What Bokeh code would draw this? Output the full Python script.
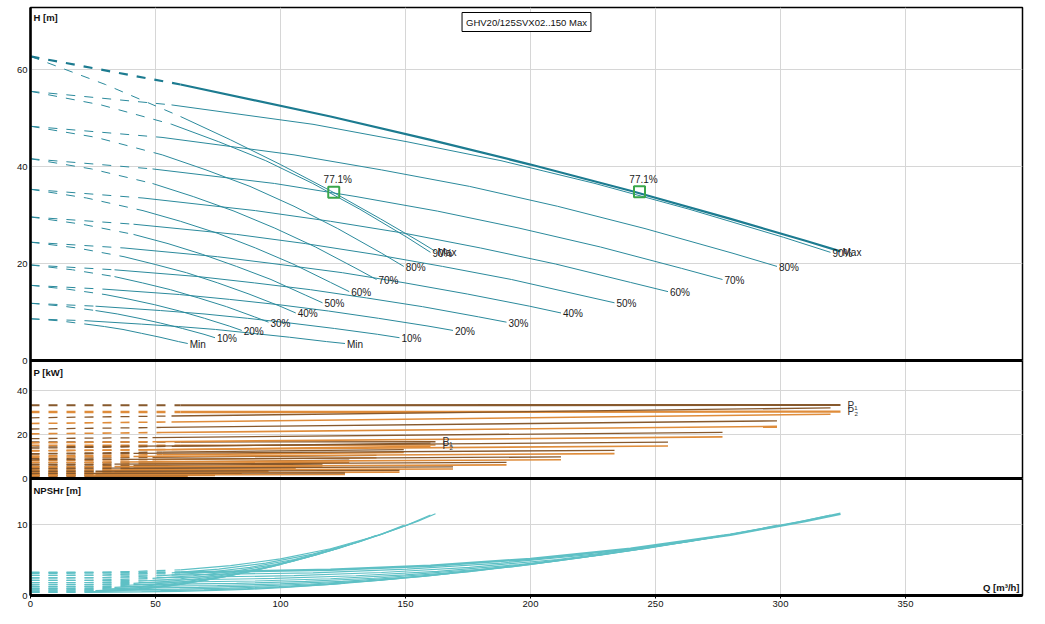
from bokeh.plotting import figure
from bokeh.models import Range1d, FixedTicker, Span, Label, ColumnDataSource
from bokeh.embed import file_html
from bokeh.resources import INLINE
from bokeh.core.properties import value

# ---------------- data ----------------
TITLE = "GHV20/125SVX02..150 Max"
SPEED_LABELS = ["Max", "90%", "80%", "70%", "60%", "50%", "40%", "30%", "20%", "10%", "Min"]

# one pump: flow points of every speed curve [m3/h]
Q_SINGLE = [
    [0, 30, 60, 80, 100, 120, 140, 155, 162],
    [0, 28.2, 56.5, 75.3, 94.1, 112.9, 131.7, 150.6, 160.0],
    [0, 26.3, 52.7, 70.2, 87.8, 105.4, 122.9, 140.5, 149.3],
    [0, 24.4, 48.8, 65.1, 81.4, 97.7, 114.0, 130.2, 138.4],
    [0, 22.5, 45.0, 60.0, 75.0, 90.0, 105.0, 120.0, 127.5],
    [0, 20.6, 41.2, 55.0, 68.7, 82.4, 96.2, 109.9, 116.8],
    [0, 18.7, 37.4, 49.9, 62.4, 74.9, 87.4, 99.8, 106.1],
    [0, 16.8, 33.6, 44.8, 56.0, 67.2, 78.4, 89.6, 95.2],
    [0, 14.9, 29.8, 39.8, 49.7, 59.6, 69.6, 79.5, 84.5],
    [0, 13.0, 26.0, 34.7, 43.4, 52.1, 60.8, 69.4, 73.8],
    [0, 11.1, 22.2, 29.6, 37.0, 44.4, 51.8, 59.2, 62.9],
]
# two pumps in parallel: flow points of every speed curve [m3/h]
Q_TWIN = [
    [0, 60, 120, 160, 200, 240, 280, 310, 324],
    [0, 56.4, 113.0, 150.6, 188.2, 225.8, 263.4, 301.2, 320.0],
    [0, 52.6, 105.4, 140.4, 175.6, 210.8, 245.8, 281.0, 298.6],
    [0, 48.8, 97.6, 130.2, 162.8, 195.4, 228.0, 260.4, 276.8],
    [0, 45.0, 90.0, 120.0, 150.0, 180.0, 210.0, 240.0, 255.0],
    [0, 41.2, 82.4, 110.0, 137.4, 164.8, 192.4, 219.8, 233.6],
    [0, 37.4, 74.8, 99.8, 124.8, 149.8, 174.8, 199.6, 212.2],
    [0, 33.6, 67.2, 89.6, 112.0, 134.4, 156.8, 179.2, 190.4],
    [0, 29.8, 59.6, 79.6, 99.4, 119.2, 139.2, 159.0, 169.0],
    [0, 26.0, 52.0, 69.4, 86.8, 104.2, 121.6, 138.8, 147.6],
    [0, 22.2, 44.4, 59.2, 74.0, 88.8, 103.6, 118.4, 125.8],
]
# head at those points [m]
H_CURVE = [
    [62.7, 56.9, 50.3, 45.5, 40.4, 35.0, 29.2, 24.7, 22.5],
    [55.5, 52.7, 48.7, 45.1, 41.2, 36.5, 31.2, 25.4, 22.3],
    [48.3, 46.0, 42.4, 39.3, 35.9, 31.8, 27.2, 22.1, 19.4],
    [41.6, 39.5, 36.5, 33.8, 30.8, 27.3, 23.4, 19.0, 16.7],
    [35.3, 33.5, 30.9, 28.7, 26.2, 23.2, 19.9, 16.1, 14.2],
    [29.6, 28.1, 26.0, 24.1, 21.9, 19.4, 16.7, 13.5, 11.9],
    [24.4, 23.2, 21.4, 19.8, 18.1, 16.0, 13.7, 11.2, 9.8],
    [19.7, 18.7, 17.3, 16.0, 14.6, 12.9, 11.1, 9.0, 7.9],
    [15.5, 14.7, 13.6, 12.6, 11.5, 10.2, 8.7, 7.1, 6.2],
    [11.8, 11.2, 10.3, 9.6, 8.7, 7.7, 6.6, 5.4, 4.7],
    [8.6, 8.2, 7.5, 7.0, 6.4, 5.6, 4.8, 3.9, 3.5],
]
# NPSHr at those points [m]
NPSH_CURVE = [
    [3.20, 3.25, 3.62, 4.20, 5.15, 6.58, 8.56, 10.48, 11.51],
    [2.83, 2.88, 3.20, 3.72, 4.56, 5.82, 7.58, 9.91, 11.33],
    [2.47, 2.51, 2.79, 3.24, 3.97, 5.07, 6.60, 8.64, 9.87],
    [2.12, 2.15, 2.40, 2.78, 3.41, 4.36, 5.68, 7.43, 8.49],
    [1.80, 1.83, 2.04, 2.36, 2.90, 3.70, 4.82, 6.30, 7.20],
    [1.51, 1.53, 1.71, 1.98, 2.43, 3.11, 4.04, 5.29, 6.04],
    [1.24, 1.26, 1.41, 1.63, 2.00, 2.56, 3.33, 4.36, 4.98],
    [1.00, 1.02, 1.14, 1.32, 1.62, 2.07, 2.69, 3.52, 4.02],
    [0.79, 0.80, 0.89, 1.04, 1.27, 1.63, 2.11, 2.77, 3.16],
    [0.60, 0.61, 0.68, 0.79, 0.97, 1.24, 1.61, 2.11, 2.41],
    [0.44, 0.45, 0.50, 0.58, 0.71, 0.90, 1.17, 1.53, 1.75],
]
# power [kW] at shut-off, end of the dashed part and end of curve
P1_SINGLE = [
    [16.6, 16.6, 16.7], [13.8, 14.6, 16.1], [11.3, 12.0, 13.1], [9.0, 9.6, 10.5],
    [7.1, 7.5, 8.3], [5.6, 5.9, 6.5], [4.2, 4.5, 4.9], [3.1, 3.3, 3.6],
    [2.2, 2.5, 2.7], [1.6, 1.7, 1.8], [1.2, 1.2, 1.3],
]
P2_SINGLE = [
    [15.1, 15.1, 15.2], [12.5, 13.2, 14.6], [10.2, 10.8, 11.8], [8.1, 8.6, 9.4],
    [6.3, 6.7, 7.4], [4.9, 5.2, 5.7], [3.6, 3.9, 4.3], [2.6, 2.8, 3.1],
    [1.8, 2.0, 2.2], [1.2, 1.3, 1.4], [0.8, 0.8, 0.9],
]
P1_TWIN = [
    [33.3, 33.3, 33.4], [27.6, 28.4, 32.1], [22.5, 23.2, 26.2], [18.1, 18.6, 21.0],
    [14.3, 14.7, 16.5], [11.1, 11.4, 12.8], [8.5, 8.7, 9.8], [6.3, 6.5, 7.3],
    [4.6, 4.7, 5.3], [3.3, 3.3, 3.7], [2.3, 2.3, 2.5],
]
P2_TWIN = [
    [30.2, 30.2, 30.4], [25.0, 25.7, 29.2], [20.3, 20.9, 23.7], [16.2, 16.7, 18.9],
    [12.7, 13.0, 14.8], [9.7, 10.0, 11.3], [7.3, 7.5, 8.5], [5.3, 5.4, 6.2],
    [3.7, 3.8, 4.3], [2.5, 2.5, 2.9], [1.5, 1.6, 1.8],
]
BEP_Q = [121.3, 243.6]
BEP_H = [34.7, 34.8]
BEP_TEXT = ["77.1%", "77.1%"]

X_TICKS = [0, 50, 100, 150, 200, 250, 300, 350]
H_TICKS = [0, 20, 40, 60]
P_TICKS = [0, 20, 40]
NPSH_TICKS = [0, 10]

# ---------------- layout / style ----------------
X_MAX = 396.8
FRAME_W, FRAME_H = 992, 588
NPSH_PX, P_PX, H_PX = 117, 118, 353          # panel heights (bottom to top)
H_SCALE, P_SCALE, NPSH_SCALE = 4.85, 2.2, 7.1  # px per unit
FONT = "Liberation Sans"
H_COLOR, H_BOLD = "#2b8a9c", "#1c7b90"
P1_COLOR, P2_COLOR = "#87592d", "#df8c3a"
N_COLOR = "#5ec0c5"
GRID = "#d6d6d6"
DASH = "9 9"

h_start = -(NPSH_PX + P_PX) / H_SCALE
p_start = -NPSH_PX / P_SCALE

p = figure(frame_width=FRAME_W, frame_height=FRAME_H,
           x_range=Range1d(0, X_MAX), y_range=Range1d(0, FRAME_H),
           output_backend="svg", toolbar_location=None,
           min_border_left=30, min_border_right=8, min_border_top=7, min_border_bottom=0)
p.extra_y_ranges = {
    "H": Range1d(h_start, h_start + FRAME_H / H_SCALE),
    "P": Range1d(p_start, p_start + FRAME_H / P_SCALE),
    "N": Range1d(0, FRAME_H / NPSH_SCALE),
}

# composite y ticks (in panel pixel units)
tick_pos, tick_lab = [], {}
for v in NPSH_TICKS:
    k = int(round(v * NPSH_SCALE)); tick_pos.append(k); tick_lab[k] = str(v)
for v in P_TICKS:
    k = int(round(NPSH_PX + v * P_SCALE)); tick_pos.append(k); tick_lab[k] = str(v)
for v in H_TICKS:
    k = int(round(NPSH_PX + P_PX + v * H_SCALE)); tick_pos.append(k); tick_lab[k] = str(v)

p.yaxis.ticker = FixedTicker(ticks=tick_pos)
p.yaxis.major_label_overrides = tick_lab
p.xaxis.ticker = FixedTicker(ticks=X_TICKS)
for ax in (p.xaxis, p.yaxis):
    ax.major_label_text_font = FONT
    ax.major_label_text_font_size = "9.5px"
    ax.major_label_text_color = "#111111"
    ax.minor_tick_line_color = None
    ax.axis_line_color = "black"
    ax.major_tick_line_color = "black"
p.yaxis.axis_line_width = 2.5
p.yaxis.major_tick_out = 0
p.yaxis.major_tick_in = 0
p.yaxis.major_label_standoff = 3
p.xaxis.axis_line_width = 3
p.xaxis.major_tick_out = 3
p.xaxis.major_tick_in = 0
p.xaxis.major_label_standoff = 2

p.xgrid.ticker = FixedTicker(ticks=X_TICKS)
p.ygrid.ticker = FixedTicker(ticks=tick_pos)
p.xgrid.grid_line_color = GRID
p.ygrid.grid_line_color = GRID
p.outline_line_color = "black"
p.outline_line_width = 1.5
p.background_fill_color = "white"
p.border_fill_color = "white"

for rn in ("H", "P"):
    p.add_layout(Span(location=0, dimension="width", y_range_name=rn,
                      line_color="black", line_width=3))

# ---------------- curves ----------------
for i in range(len(SPEED_LABELS)):
    qs, qt = Q_SINGLE[i], Q_TWIN[i]
    h, npsh = H_CURVE[i], NPSH_CURVE[i]
    tw = 2.2 if i == 0 else 1.0
    pw = 2.4 if i == 0 else 1.6
    tc = H_BOLD if i == 0 else H_COLOR
    # NPSHr
    p.line(qs[:3], npsh[:3], y_range_name="N", line_color=N_COLOR, line_dash=DASH, line_width=1.2)
    p.line(qs[2:], npsh[2:], y_range_name="N", line_color=N_COLOR, line_width=1.2)
    p.line(qt[:2], npsh[:2], y_range_name="N", line_color=N_COLOR, line_dash=DASH, line_width=tw + 0.2)
    p.line(qt[1:], npsh[1:], y_range_name="N", line_color=N_COLOR, line_width=tw + 0.2)
    # power
    qps = [qs[0], qs[2], qs[-1]]
    qpt = [qt[0], qt[1], qt[-1]]
    for vals, qq, col, w in ((P2_SINGLE[i], qps, P2_COLOR, 1.6), (P1_SINGLE[i], qps, P1_COLOR, 1.3),
                             (P2_TWIN[i], qpt, P2_COLOR, pw), (P1_TWIN[i], qpt, P1_COLOR, pw - 0.3)):
        p.line(qq[:2], vals[:2], y_range_name="P", line_color=col, line_dash=DASH, line_width=w)
        p.line(qq[1:], vals[1:], y_range_name="P", line_color=col, line_width=w)
    # head
    p.line(qs[:3], h[:3], y_range_name="H", line_color=H_COLOR, line_dash=DASH, line_width=1)
    p.line(qs[2:], h[2:], y_range_name="H", line_color=H_COLOR, line_width=1)
    p.line(qt[:2], h[:2], y_range_name="H", line_color=tc, line_dash=DASH, line_width=tw)
    p.line(qt[1:], h[1:], y_range_name="H", line_color=tc, line_width=tw)

# curve end labels
lab_src = ColumnDataSource(dict(
    x=[q[-1] for q in Q_SINGLE] + [q[-1] for q in Q_TWIN],
    y=[hh[-1] for hh in H_CURVE] * 2,
    t=SPEED_LABELS * 2,
))
p.text(x="x", y="y", text="t", source=lab_src, y_range_name="H",
       text_font=value(FONT), text_font_size="10px", text_color="#1a1a1a",
       text_align="left", text_baseline="middle", x_offset=2, y_offset=1)

# power labels
pl_src = ColumnDataSource(dict(
    x=[Q_TWIN[0][-1], Q_TWIN[0][-1], Q_SINGLE[0][-1], Q_SINGLE[0][-1]],
    y=[P1_TWIN[0][-1], P2_TWIN[0][-1], P1_SINGLE[0][-1], P2_SINGLE[0][-1]],
    t=["P\u2081", "P\u2082", "P\u2081", "P\u2082"],
))
p.text(x="x", y="y", text="t", source=pl_src, y_range_name="P",
       text_font=value(FONT), text_font_size="10px", text_color="#333333",
       text_align="left", text_baseline="middle", x_offset=7)

# best efficiency points
bep_src = ColumnDataSource(dict(x=BEP_Q, y=BEP_H, t=BEP_TEXT))
p.scatter(x="x", y="y", source=bep_src, y_range_name="H", marker="square", size=11,
          fill_color=None, line_color="#3aa64b", line_width=2)
p.text(x="x", y="y", text="t", source=bep_src, y_range_name="H",
       text_font=value(FONT), text_font_size="10px", text_color="#1a1a1a",
       text_align="center", text_baseline="bottom", x_offset=4, y_offset=-7)

# panel titles and axis texts
for txt, ypx in (("H [m]", FRAME_H - 4), ("P [kW]", NPSH_PX + P_PX - 6), ("NPSHr [m]", NPSH_PX - 6)):
    p.add_layout(Label(x=0, y=ypx, x_offset=3, text=txt, text_font=FONT,
                       text_font_size="9.5px", text_font_style="bold",
                       text_baseline="top", text_align="left", text_color="#111111"))
p.add_layout(Label(x=X_MAX, y=3, x_offset=-3, text="Q [m\u00b3/h]", text_font=FONT,
                   text_font_size="9.5px", text_font_style="bold",
                   text_baseline="bottom", text_align="right", text_color="#111111"))
p.add_layout(Label(x=X_MAX / 2, y=FRAME_H - 5, text=TITLE, text_font=FONT,
                   text_font_size="9.5px", text_align="center", text_baseline="top",
                   text_color="#111111", border_line_color="black", border_line_width=1,
                   background_fill_color="white", padding=4))

open("out.html", "w").write(file_html(p, INLINE))
